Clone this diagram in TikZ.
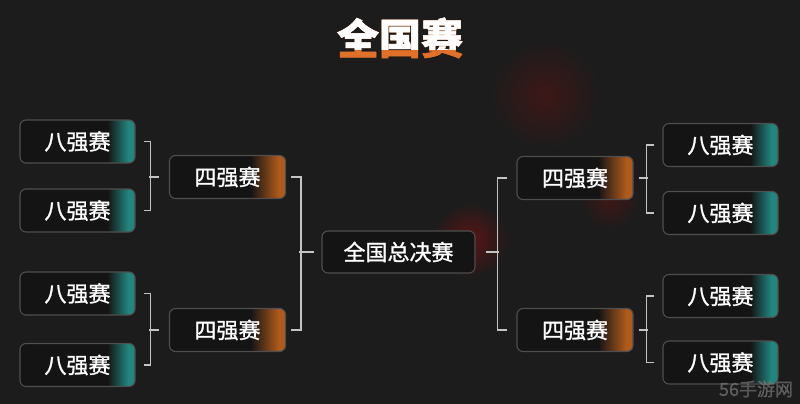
\documentclass[tikz,border=0pt]{standalone}
\usepackage{fontspec}
\newfontfamily\cjk{Noto Sans CJK SC}[FakeBold=1.2]
\usetikzlibrary{positioning}

\definecolor{bg}{HTML}{1C1C1C}
\definecolor{boxfill}{HTML}{141414}
\definecolor{boxline}{HTML}{4E4E4E}
\definecolor{tealglow}{HTML}{22857E}
\definecolor{orangeglow}{HTML}{AE5A1C}
\definecolor{titleorange}{HTML}{E0702A}
\definecolor{linkgray}{HTML}{C4C4C4}
\definecolor{smudge}{HTML}{3E1717}

\pgfdeclarehorizontalshading{tealend}{100bp}{color(0bp)=(boxfill); color(25bp)=(boxfill); color(63bp)=(boxfill); color(72bp)=(tealglow); color(100bp)=(tealglow)}
\pgfdeclarehorizontalshading{orangeend}{100bp}{color(0bp)=(boxfill); color(25bp)=(boxfill); color(60bp)=(boxfill); color(72bp)=(orangeglow); color(100bp)=(orangeglow)}

\tikzset{
	matchbox/.style={draw=boxline, line width=1.1pt, rounded corners=6pt, minimum height=43pt, text=white, font=\cjk\fontsize{22}{22}\selectfont},
	eightbox/.style={matchbox, minimum width=115pt, shading=tealend},
	fourbox/.style={matchbox, minimum width=116pt, shading=orangeend},
	finalbox/.style={matchbox, minimum width=153pt, minimum height=42pt, fill=boxfill},
	link/.style={draw=linkgray, line width=1.5pt},
}

\begin{document}
	\begin{tikzpicture}[x=1pt, y=-1pt]
		
		\fill[bg] (0,0) rectangle (800,404);
		\useasboundingbox (0,0) rectangle (800,404);
		
		% background smudges
		\shade[inner color=smudge, outer color=bg] (545,95) circle (55);
		\shade[inner color=smudge, outer color=bg] (610,200) circle (30);
		\shade[inner color=smudge!85!red, outer color=bg] (470,240) circle (38);
		
		% title
		\node[font=\cjk\bfseries\fontsize{42}{42}\selectfont, text=titleorange] (titleBase) at (400,38) {全国赛};
		\begin{scope}
			\clip (300,0) rectangle (500,50);
			\node[font=\cjk\bfseries\fontsize{42}{42}\selectfont, text=white] (title) at (400,38) {全国赛};
		\end{scope}
		
		% left half
		\node[eightbox] (e1) at (77.5,141.5) {八强赛};
		\node[eightbox] (e2) at (77.5,210.5) {八强赛};
		\node[eightbox] (e3) at (77.5,293.5) {八强赛};
		\node[eightbox] (e4) at (77.5,365) {八强赛};
		
		\node[fourbox] (q1) at (227.5,177) {四强赛};
		\node[fourbox] (q2) at (227.5,330) {四强赛};
		
		% final
		\node[finalbox] (fin) at (398.5,252) {全国总决赛};
		
		% right half
		\node[fourbox] (q3) at (575,178) {四强赛};
		\node[fourbox] (q4) at (575,330) {四强赛};
		
		\node[eightbox] (e5) at (720.5,145) {八强赛};
		\node[eightbox] (e6) at (720.5,213) {八强赛};
		\node[eightbox] (e7) at (720.5,296) {八强赛};
		\node[eightbox] (e8) at (720.5,362.5) {八强赛};
		
		% brackets
		\draw[link] ([xshift=8]e1.east) -- ++(7,0) |- ([xshift=8]e2.east);
		\draw[link] ([xshift=-10]q1.west) -- ++(-10,0);
		\draw[link] ([xshift=8]e3.east) -- ++(7,0) |- ([xshift=8]e4.east);
		\draw[link] ([xshift=-10]q2.west) -- ++(-10,0);
		
		\draw[link] ([xshift=5]q1.east) -- ++(10,0) |- ([xshift=5]q2.east);
		\draw[link] ([xshift=-7]fin.west) -- ++(-15,0);
		\draw[link] ([xshift=-9]q3.west) -- ++(-10,0) |- ([xshift=-9]q4.west);
		\draw[link] ([xshift=10]fin.east) -- ++(13,0);
		
		\draw[link] ([xshift=-8]e5.west) -- ++(-8,0) |- ([xshift=-8]e6.west);
		\draw[link] ([xshift=5]q3.east) -- ++(9,0);
		\draw[link] ([xshift=-8]e7.west) -- ++(-8,0) |- ([xshift=-8]e8.west);
		\draw[link] ([xshift=5]q4.east) -- ++(9,0);
		
		% watermark
		\node[font=\cjk\fontsize{18}{18}\selectfont, text=gray, opacity=0.6] (mark) at (756,389) {56手游网};

	\end{tikzpicture}
\end{document}
